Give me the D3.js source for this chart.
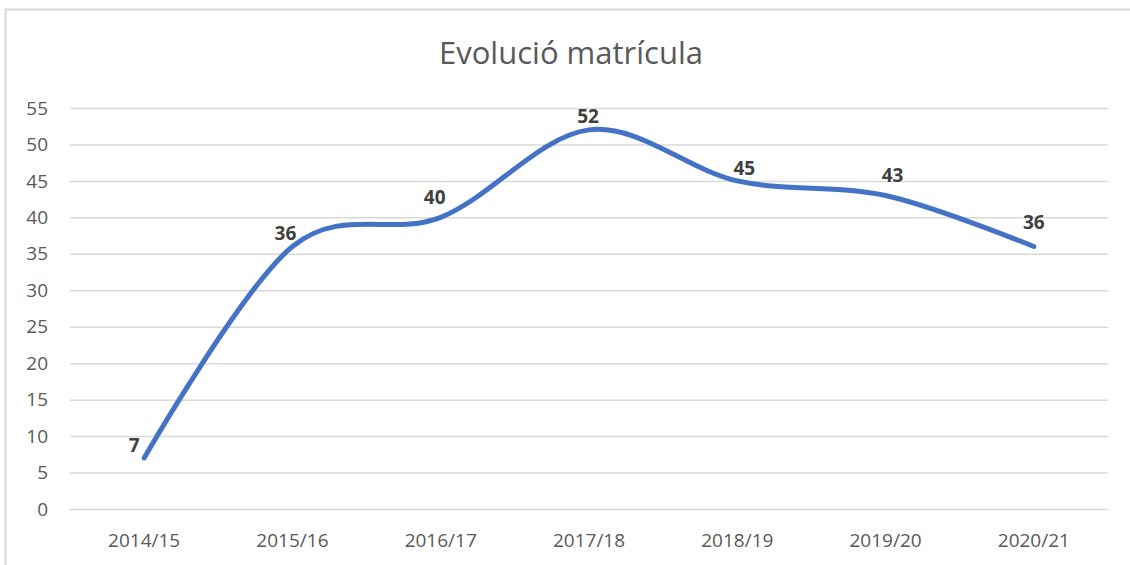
<!DOCTYPE html>
<html>
<head>
<meta charset="utf-8">
<script src="https://cdn.jsdelivr.net/npm/d3@7"></script>
<style>
  html, body { margin: 0; padding: 0; background: #fff; }
  svg { display: block; }
</style>
</head>
<body>
<svg id="chart" width="1130" height="565"></svg>
<script>
const title = "Evolució matrícula";
const categories = ["2014/15", "2015/16", "2016/17", "2017/18", "2018/19", "2019/20", "2020/21"];
const values = [7, 36, 40, 52, 45, 43, 36];
const yTicks = [0, 5, 10, 15, 20, 25, 30, 35, 40, 45, 50, 55];
// label offsets relative to each point (dx, dy)
const labelDx = [-10, -7, -6, -1, 7, 7, 0];
const labelDy = [-13, -13, -20, -14, -13, -20, -24];

const svg = d3.select("#chart");
const font = "'Open Sans', sans-serif";

svg.append("rect")
  .attr("x", 5.5).attr("y", 9.5)
  .attr("width", 1140).attr("height", 570)
  .attr("fill", "#fff").attr("stroke", "#D9D9D9").attr("stroke-width", 2);

const plotL = 70, plotR = 1108, plotT = 108, plotB = 509;

const x = d3.scaleBand().domain(categories).range([plotL, plotR]);
const y = d3.scaleLinear().domain([0, 55]).range([plotB, plotT]);

// gridlines + y labels
const yAxis = d3.axisLeft(y).tickValues(yTicks).tickSize(-(plotR - plotL)).tickPadding(22);
const gy = svg.append("g").attr("transform", `translate(${plotL},0)`).call(yAxis);
gy.select(".domain").remove();
gy.selectAll(".tick line").attr("stroke", "#D9D9D9").attr("stroke-width", 1.5);
gy.selectAll(".tick text")
  .attr("fill", "#595959").style("font-family", font).style("font-size", "19px");

// x labels
const xAxis = d3.axisBottom(x).tickSize(0).tickPadding(25);
const gx = svg.append("g").attr("transform", `translate(0,${plotB})`).call(xAxis);
gx.select(".domain").remove();
gx.selectAll(".tick text")
  .attr("fill", "#595959").style("font-family", font).style("font-size", "19px");

// title
svg.append("text")
  .attr("x", 571).attr("y", 64)
  .attr("text-anchor", "middle")
  .attr("fill", "#595959")
  .style("font-family", font).style("font-size", "31px")
  .text(title);

// line
const cx = (d, i) => x(categories[i]) + x.bandwidth() / 2;
const line = d3.line()
  .x((d, i) => cx(d, i))
  .y(d => y(d))
  .curve(d3.curveCardinal.tension(0));

svg.append("path")
  .datum(values)
  .attr("d", line)
  .attr("fill", "none")
  .attr("stroke", "#4472C4")
  .attr("stroke-width", 5)
  .attr("stroke-linecap", "round")
  .attr("stroke-linejoin", "round");

// data labels
svg.append("g").selectAll("text")
  .data(values)
  .join("text")
  .attr("x", (d, i) => cx(d, i) + labelDx[i])
  .attr("y", (d, i) => y(d) + labelDy[i])
  .attr("dy", "0.35em")
  .attr("text-anchor", "middle")
  .attr("fill", "#404040")
  .style("font-family", font).style("font-size", "19px").style("font-weight", "bold")
  .text(d => d);
</script>
</body>
</html>
